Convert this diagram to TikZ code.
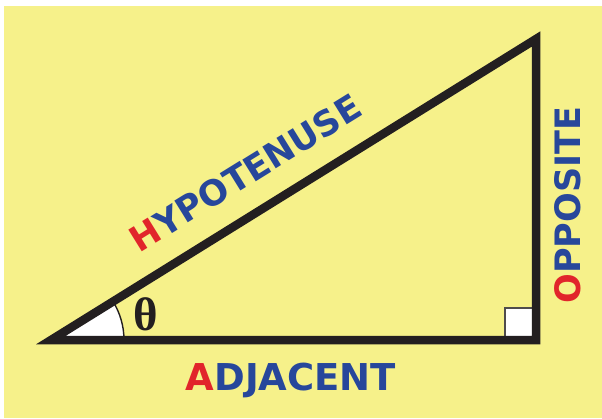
\documentclass[tikz,border=0pt]{standalone}
\usepackage{fontspec}
\newfontfamily\sideFont{DejaVu Sans}
\newfontfamily\greekFont{Liberation Serif}
\definecolor{pYellow}{HTML}{F6F18A}
\definecolor{pInk}{HTML}{231F20}
\definecolor{pRed}{HTML}{E1252B}
\definecolor{pBlue}{HTML}{27479B}
\usetikzlibrary{positioning,calc}

\begin{document}
\begin{tikzpicture}[x=1pt, y=-1pt,
  sidelabel/.style={pBlue, inner sep=0pt, font=\sideFont\bfseries\fontsize{37}{37}\selectfont},
  edge/.style={pInk, line width=8.5pt, line join=miter, miter limit=20}]
\useasboundingbox (0,0) rectangle (602,418);
\fill[pYellow] (4,6) rectangle (602,418);
% corners of the triangle (centre of the stroke)
\coordinate (A) at (51,340);
\coordinate (B) at (536,340);
\coordinate (C) at (536,39);
% angle wedge and right angle mark
\fill[white] (A) -- ++(0:73pt) arc[start angle=0, end angle=31.8, radius=73pt] -- cycle;
\draw[pInk, line width=1.4pt] (A) ++(0:73pt) arc[start angle=0, end angle=31.8, radius=73pt];
\draw[pInk!80, fill=white, line width=1.6pt] (505,308) rectangle (B);
\draw[edge] (A) -- (B) -- (C) -- cycle;
% labels
\node[pInk, inner sep=0pt, font=\greekFont\bfseries\fontsize{47}{47}\selectfont] (theta) at (146,314) {θ};
\node[sidelabel, anchor=base] (adj) at (291,390) {{\color{pRed}A}DJACENT};
\node[sidelabel, anchor=base, rotate=31.8, font=\sideFont\bfseries\fontsize{35}{35}\selectfont] (hyp) at (252,184) {{\color{pRed}H}YPOTENUSE};
\node[sidelabel, anchor=base, rotate=90, font=\sideFont\bfseries\fontsize{35}{35}\selectfont] (opp) at (580,205) {{\color{pRed}O}PPOSITE};
\end{tikzpicture}
\end{document}
